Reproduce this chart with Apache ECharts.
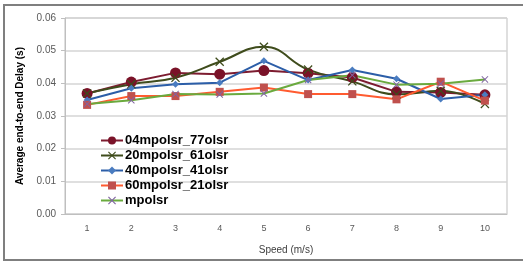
<!DOCTYPE html>
<html>
<head>
<meta charset="utf-8">
<script src="https://cdn.jsdelivr.net/npm/echarts@6/dist/echarts.min.js"></script>
<style>
  html, body { margin: 0; padding: 0; background: #fff; overflow: hidden; }
  #chart { width: 523px; height: 262px; }
</style>
</head>
<body>
<div id="chart"></div>
<script>
// speed (m/s)
const speeds = ['1', '2', '3', '4', '5', '6', '7', '8', '9', '10']

// average end-to-end delay (s)
const s04_77 = [0.0369, 0.0404, 0.0432, 0.0428, 0.0439, 0.0431, 0.0418, 0.0374, 0.0372, 0.0365]
const s20_61 = [0.0369, 0.0397, 0.0417, 0.0466, 0.0512, 0.0442, 0.0406, 0.0366, 0.0377, 0.0337]
const s40_41 = [0.0349, 0.0385, 0.0397, 0.0402, 0.0469, 0.0410, 0.0441, 0.0414, 0.0352, 0.0365]
const s60_21 = [0.0334, 0.0361, 0.0361, 0.0374, 0.0387, 0.0367, 0.0367, 0.0351, 0.0405, 0.0347]
const sMpolsr = [0.0337, 0.0348, 0.0367, 0.0366, 0.0369, 0.0410, 0.0425, 0.0396, 0.0399, 0.0412]

const yTicks = [0, 0.01, 0.02, 0.03, 0.04, 0.05, 0.06]

const X_MARK = 'path://M0,1L1,0L5,4L9,0L10,1L6,5L10,9L9,10L5,6L1,10L0,9L4,5Z'

const chart = echarts.init(document.getElementById('chart'))

function line(name, data, lineColor, symbol, symbolSize, markColor, smooth) {
  return {
    name,
    type: 'line',
    data,
    smooth: smooth || false,
    symbol,
    symbolSize,
    lineStyle: { color: lineColor, width: 2 },
    itemStyle: { color: markColor },
  }
}

chart.setOption({
  animation: false,
  textStyle: { fontFamily: 'Liberation Sans, Arial, sans-serif' },
  // outer frame of the pasted figure (right side runs off the page)
  graphic: [{
    type: 'rect',
    silent: true,
    shape: { x: 4, y: 5, width: 560, height: 255 },
    style: { fill: null, stroke: '#7f7f7f', lineWidth: 2 },
  }],
  grid: { left: 65, right: 16, top: 18, bottom: 48, show: true, borderColor: '#bfbfbf', borderWidth: 1 },
  legend: {
    orient: 'vertical',
    left: 95,
    top: 129,
    itemGap: 2,
    itemWidth: 22,
    itemHeight: 10,
    textStyle: { color: '#000', fontSize: 13, fontWeight: 'bold', padding: [0, 0, 0, -3] },
  },
  xAxis: {
    type: 'category',
    data: speeds,
    name: 'Speed (m/s)',
    nameLocation: 'middle',
    nameGap: 31,
    nameTextStyle: { color: '#404040', fontSize: 10 },
    axisLine: { lineStyle: { color: '#bfbfbf' } },
    axisTick: { show: false },
    axisLabel: { color: '#595959', fontSize: 9, margin: 10 },
  },
  yAxis: {
    type: 'value',
    min: yTicks[0],
    max: yTicks[yTicks.length - 1],
    interval: 0.01,
    name: 'Average end-to-end Delay (s)',
    nameLocation: 'middle',
    nameGap: 34,
    nameTextStyle: { color: '#000', fontSize: 10, fontWeight: 'bold' },
    axisLine: { show: true, lineStyle: { color: '#bfbfbf' } },
    axisTick: { show: true, length: 4, lineStyle: { color: '#bfbfbf' } },
    axisLabel: { color: '#595959', fontSize: 10, margin: 9, formatter: (v) => v.toFixed(2) },
    splitLine: { lineStyle: { color: '#d4d4d4', width: 1.5 } },
  },
  series: [
    line('04mpolsr_77olsr', s04_77, '#7d1c30', 'circle', 11, '#7a1228'),
    line('20mpolsr_61olsr', s20_61, '#3f4c1c', X_MARK, 9, '#3f4c1c', 0.45),
    line('40mpolsr_41olsr', s40_41, '#2c5ea8', 'diamond', 7, '#4a7cc0'),
    line('60mpolsr_21olsr', s60_21, '#ff5b30', 'rect', 8, '#c0504d'),
    line('mpolsr', sMpolsr, '#6aaa3e', X_MARK, 7, '#8064a2'),
  ],
})
</script>
</body>
</html>
